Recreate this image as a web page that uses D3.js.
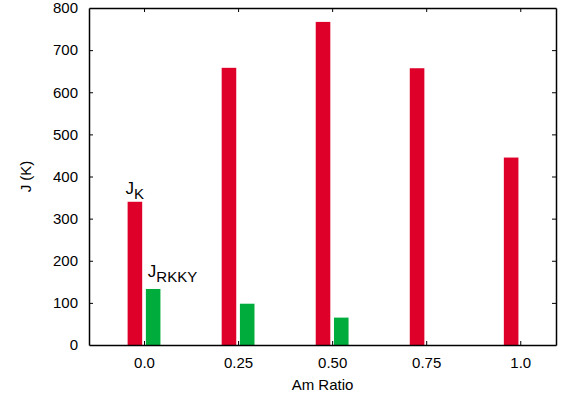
<!DOCTYPE html>
<html><head><meta charset="utf-8">
<script src="https://cdn.jsdelivr.net/npm/d3@7"></script>
<style>body{margin:0;background:#fff}svg{display:block}text{font-family:"Liberation Sans",Arial,sans-serif}</style>
</head><body><svg id="c" width="566" height="401"></svg>
<script>
const categories = ["0.0", "0.25", "0.50", "0.75", "1.0"];
const jK = [340, 658, 767, 657, 445];
const jRKKY = [133, 98, 65, null, null];
const yTicks = [0, 100, 200, 300, 400, 500, 600, 700, 800];

(function () {
const W = 566, H = 401;
const m = {l: 89, r: 10, t: 8, b: 56};
const svg = d3.select("#c");
const x = d3.scaleLinear().domain([-0.585, 4.38]).range([m.l, W - m.r]);
const y = d3.scaleLinear().domain([0, 800]).range([H - m.b, m.t]);
const off = 0.097, bw = 0.155;
const red = "#de0029", green = "#00ad3c";

const g = svg.append("g");
g.selectAll("rect.k").data(jK).join("rect").attr("class", "k")
  .attr("x", (d, i) => x(i - off - bw / 2)).attr("width", x(bw) - x(0))
  .attr("y", d => y(d)).attr("height", d => y(0) - y(d)).attr("fill", red);
g.selectAll("rect.r").data(jRKKY.map((v, i) => ({v, i})).filter(d => d.v != null)).join("rect").attr("class", "r")
  .attr("x", d => x(d.i + off - bw / 2)).attr("width", x(bw) - x(0))
  .attr("y", d => y(d.v)).attr("height", d => y(0) - y(d.v)).attr("fill", green);

const idx = categories.map((c, i) => i);
const fmtCat = i => categories[i];
const axB = svg.append("g").attr("transform", `translate(0,${y(0)})`)
  .call(d3.axisBottom(x).tickValues(idx).tickFormat(fmtCat).tickSize(-4).tickPadding(12).tickSizeOuter(0));
const axT = svg.append("g").attr("transform", `translate(0,${y(800)})`)
  .call(d3.axisTop(x).tickValues(idx).tickFormat("").tickSize(-4).tickSizeOuter(0));
const axL = svg.append("g").attr("transform", `translate(${m.l},0)`)
  .call(d3.axisLeft(y).tickValues(yTicks).tickFormat(d3.format("d")).tickSize(-4).tickPadding(11).tickSizeOuter(0));
const axR = svg.append("g").attr("transform", `translate(${W - m.r},0)`)
  .call(d3.axisRight(y).tickValues(yTicks).tickFormat("").tickSize(-4).tickSizeOuter(0));
[axB, axT, axL, axR].forEach(a => {
  a.select(".domain").attr("stroke", "#000").attr("stroke-width", 1.5);
  a.selectAll(".tick line").attr("stroke", "#000").attr("stroke-width", 1);
  a.selectAll("text").attr("font-size", 15).attr("fill", "#000").style("font-family", '"Liberation Sans",Arial,sans-serif');
});
axL.selectAll(".tick").filter(d => d === 0 || d === 800).select("line").remove();
axR.selectAll(".tick").filter(d => d === 0 || d === 800).select("line").remove();

svg.append("text").attr("x", (m.l + W - m.r) / 2).attr("y", 390)
  .attr("text-anchor", "middle").attr("font-size", 15).text("Am Ratio");
svg.append("text").attr("transform", `translate(31,${(y(0) + y(800)) / 2}) rotate(-90)`)
  .attr("text-anchor", "middle").attr("font-size", 15).text("J (K)");

const l1 = svg.append("text").attr("x", x(0 - off - bw / 2) - 2).attr("y", y(jK[0]) - 8).attr("font-size", 17);
l1.append("tspan").text("J");
l1.append("tspan").attr("dy", 5).attr("font-size", 15).text("K");
const l2 = svg.append("text").attr("x", x(0 + off - bw / 2) + 2).attr("y", y(jRKKY[0]) - 12).attr("font-size", 17);
l2.append("tspan").text("J");
l2.append("tspan").attr("dy", 5).attr("font-size", 15).text("RKKY");
})();
</script></body></html>
